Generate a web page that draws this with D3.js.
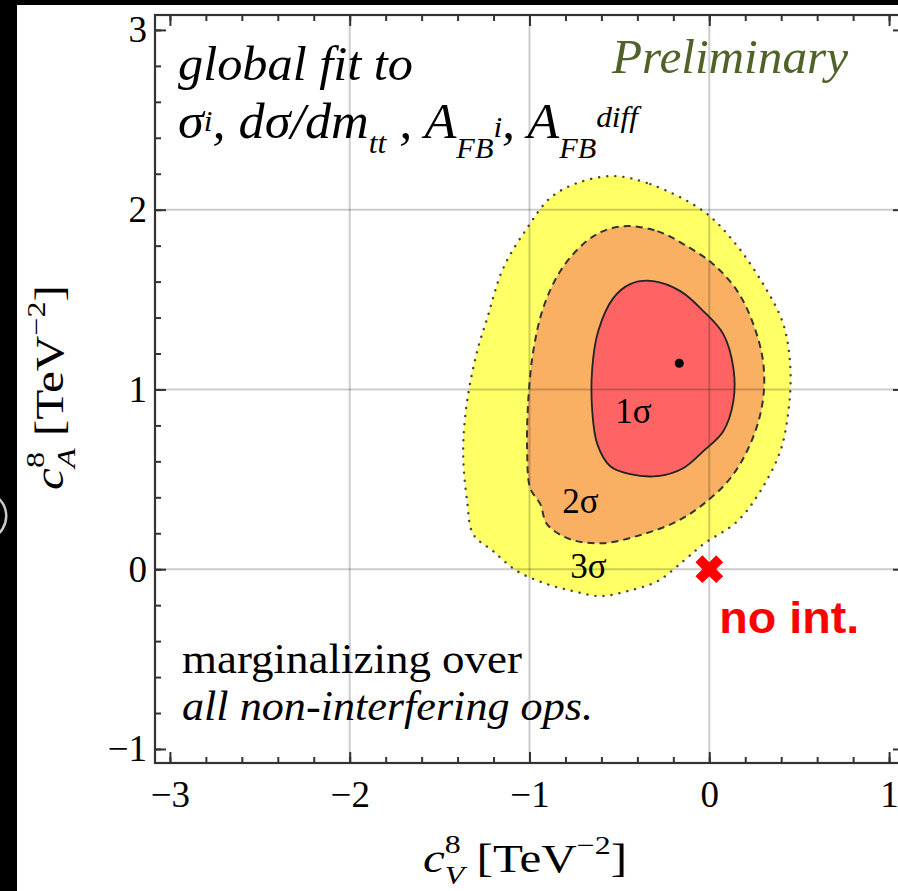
<!DOCTYPE html>
<html>
<head>
<meta charset="utf-8">
<script src="https://cdn.jsdelivr.net/npm/d3@7"></script>
<style>
  html, body { margin: 0; padding: 0; background: #000; }
  svg { display: block; }
</style>
</head>
<body>
<div id="container"></div>
<script>
// contour outlines, in (cV, cA) units of TeV^-2
var sigma3 = [
  [-0.534, 2.187], [-0.328, 2.142], [-0.033, 1.992], [0.134, 1.825], [0.300, 1.586],
  [0.412, 1.363], [0.451, 1.119], [0.440, 0.879], [0.395, 0.657], [0.284, 0.434],
  [0.156, 0.267], [-0.033, 0.139], [-0.145, 0.045], [-0.289, -0.067], [-0.456, -0.122],
  [-0.607, -0.150], [-0.757, -0.122], [-0.902, -0.083], [-1.068, -0.011], [-1.202, 0.100],
  [-1.313, 0.195], [-1.347, 0.378], [-1.369, 0.657], [-1.347, 0.935], [-1.291, 1.213],
  [-1.235, 1.397], [-1.146, 1.675], [-1.013, 1.898], [-0.885, 2.065], [-0.735, 2.148]
];
var sigma2 = [
  [-0.456, 1.909], [-0.289, 1.881], [-0.145, 1.809], [0.022, 1.697], [0.156, 1.547],
  [0.245, 1.363], [0.301, 1.141], [0.295, 0.918], [0.228, 0.696], [0.117, 0.506],
  [-0.033, 0.362], [-0.178, 0.267], [-0.367, 0.195], [-0.590, 0.145], [-0.774, 0.167],
  [-0.902, 0.250], [-0.940, 0.362], [-0.996, 0.451], [-1.013, 0.657], [-1.007, 0.935],
  [-0.979, 1.213], [-0.924, 1.452], [-0.829, 1.658], [-0.701, 1.809], [-0.590, 1.881]
];
var sigma1 = [
  [-0.312, 1.603], [-0.161, 1.547], [-0.033, 1.436], [0.078, 1.308], [0.134, 1.119],
  [0.134, 0.935], [0.078, 0.768], [-0.033, 0.657], [-0.145, 0.562], [-0.289, 0.518],
  [-0.440, 0.529], [-0.551, 0.573], [-0.623, 0.696], [-0.651, 0.879], [-0.651, 1.119],
  [-0.618, 1.324], [-0.534, 1.508], [-0.440, 1.586]
];
var bestFit = [-0.167, 1.146];
var noInt = [0, 0];

var sigmaLabels = ["1σ", "2σ", "3σ"];
var sigmaLabelPos = [[-0.523, 0.812], [-0.818, 0.311], [-0.773, -0.05]];

var xTicks = [-3, -2, -1, 0, 1];
var xTickLabels = ["\u22123", "\u22122", "\u22121", "0", "1"];
var yTicks = [-1, 0, 1, 2, 3];
var yTickLabels = ["\u22121", "0", "1", "2", "3"];
var xGrid = [-2, -1, 0];
var yGrid = [0, 1, 2];

const SERIF = "'Liberation Serif', 'DejaVu Serif', serif";
const SANS = "'Liberation Sans', Arial, sans-serif";

const W = 898, H = 891;
const LEFT = 155, RIGHT = 904, TOP = 15, BOTTOM = 763;

const svg = d3.select("#container").append("svg")
  .attr("width", W).attr("height", H)
  .style("font-family", SERIF);

// slide background
svg.append("rect").attr("width", W).attr("height", H).attr("fill", "#000");
svg.append("rect").attr("x", 17).attr("y", 5).attr("width", W - 17).attr("height", H - 5).attr("fill", "#fff");
svg.append("path")
  .attr("d", d3.arc()({innerRadius: 23, outerRadius: 25.5, startAngle: 0.5, endAngle: 2.65}))
  .attr("transform", "translate(-18,516)")
  .attr("fill", "#c8c8c8");

const x = d3.scaleLinear().domain([-3.083, 1.083]).range([LEFT, RIGHT]);
const y = d3.scaleLinear().domain([-1.078, 3.083]).range([BOTTOM, TOP]);

const plot = svg.append("g");
svg.append("clipPath").attr("id", "plotclip")
  .append("rect").attr("x", LEFT).attr("y", TOP).attr("width", RIGHT - LEFT).attr("height", BOTTOM - TOP);
plot.attr("clip-path", "url(#plotclip)");

const line = d3.line()
  .x(d => x(d[0]))
  .y(d => y(d[1]))
  .curve(d3.curveCatmullRomClosed.alpha(0.5));

// filled regions
plot.append("path").attr("d", line(sigma3)).attr("fill", "#ffff66");
plot.append("path").attr("d", line(sigma2)).attr("fill", "#f9b062");
plot.append("path").attr("d", line(sigma1)).attr("fill", "#ff6464");

// grid lines on top, translucent so they show through the fills
plot.selectAll(".gx").data(xGrid).enter().append("line")
  .attr("x1", d => x(d)).attr("x2", d => x(d))
  .attr("y1", TOP).attr("y2", BOTTOM)
  .attr("stroke", "#000").attr("stroke-opacity", 0.2).attr("stroke-width", 2);
plot.selectAll(".gy").data(yGrid).enter().append("line")
  .attr("y1", d => y(d)).attr("y2", d => y(d))
  .attr("x1", LEFT).attr("x2", RIGHT)
  .attr("stroke", "#000").attr("stroke-opacity", 0.2).attr("stroke-width", 2);

// contour borders
plot.append("path").attr("d", line(sigma3)).attr("fill", "none")
  .attr("stroke", "#444").attr("stroke-width", 2.4)
  .attr("stroke-dasharray", "0.1 8").attr("stroke-linecap", "round");
plot.append("path").attr("d", line(sigma2)).attr("fill", "none")
  .attr("stroke", "#333").attr("stroke-width", 2)
  .attr("stroke-dasharray", "7 5");
plot.append("path").attr("d", line(sigma1)).attr("fill", "none")
  .attr("stroke", "#222").attr("stroke-width", 1.8);

plot.append("circle")
  .attr("cx", x(bestFit[0])).attr("cy", y(bestFit[1])).attr("r", 4.5)
  .attr("fill", "#000");

plot.selectAll(".slab").data(sigmaLabels).enter().append("text")
  .attr("x", (d, i) => x(sigmaLabelPos[i][0]))
  .attr("y", (d, i) => y(sigmaLabelPos[i][1]))
  .attr("font-size", 35)
  .attr("fill", "#000")
  .text(d => d);

// no-interference point
svg.append("path")
  .attr("d", d3.symbol(d3.symbolCross, 480)())
  .attr("transform", `translate(${x(noInt[0])},${y(noInt[1])}) rotate(45)`)
  .attr("fill", "#ff0000");
svg.append("text")
  .attr("x", x(noInt[0]) + 10).attr("y", y(noInt[1]) + 64)
  .style("font-family", SANS)
  .attr("font-weight", "bold").attr("font-size", 44)
  .attr("fill", "#ff0000")
  .attr("textLength", 140).attr("lengthAdjust", "spacingAndGlyphs")
  .text("no int.");

// axes: major + minor ticks pointing inward on all four sides
const minor = d3.range(-3, 1.001, 0.2).map(v => +v.toFixed(1));
const minorY = d3.range(-1, 3.001, 0.2).map(v => +v.toFixed(1));

function styleAxis(g) {
  g.attr("font-family", null);
  g.select(".domain").remove();
  g.selectAll("line").attr("stroke", "#333").attr("stroke-width", 2);
  g.selectAll("text").attr("font-size", 37).attr("fill", "#000");
}

svg.append("g").attr("transform", `translate(0,${BOTTOM})`)
  .call(d3.axisBottom(x).tickValues(minor).tickSize(-6).tickFormat(""))
  .call(styleAxis);
svg.append("g").attr("transform", `translate(0,${BOTTOM})`)
  .call(d3.axisBottom(x).tickValues(xTicks).tickSize(-11).tickPadding(18)
    .tickFormat((d, i) => xTickLabels[i]))
  .call(styleAxis);
svg.append("g").attr("transform", `translate(0,${TOP})`)
  .call(d3.axisTop(x).tickValues(minor).tickSize(-6).tickFormat(""))
  .call(styleAxis);
svg.append("g").attr("transform", `translate(0,${TOP})`)
  .call(d3.axisTop(x).tickValues(xTicks).tickSize(-11).tickFormat(""))
  .call(styleAxis);

svg.append("g").attr("transform", `translate(${LEFT},0)`)
  .call(d3.axisLeft(y).tickValues(minorY).tickSize(-6).tickFormat(""))
  .call(styleAxis);
svg.append("g").attr("transform", `translate(${LEFT},0)`)
  .call(d3.axisLeft(y).tickValues(yTicks).tickSize(-11).tickPadding(8)
    .tickFormat((d, i) => yTickLabels[i]))
  .call(styleAxis);
svg.append("g").attr("transform", `translate(${RIGHT},0)`)
  .call(d3.axisRight(y).tickValues(minorY).tickSize(-6).tickFormat(""))
  .call(styleAxis);
svg.append("g").attr("transform", `translate(${RIGHT},0)`)
  .call(d3.axisRight(y).tickValues(yTicks).tickSize(-11).tickFormat(""))
  .call(styleAxis);

// frame
svg.append("rect")
  .attr("x", LEFT).attr("y", TOP).attr("width", RIGHT - LEFT).attr("height", BOTTOM - TOP)
  .attr("fill", "none").attr("stroke", "#333").attr("stroke-width", 2.2);

// axis titles (sup and sub stacked after the c)
function axisTitle(t, sub) {
  t.append("tspan").attr("font-style", "italic").text("c");
  t.append("tspan").attr("font-size", 26).attr("dy", -19).text("8");
  t.append("tspan").attr("font-size", 26).attr("font-style", "italic")
    .attr("dx", -13).attr("dy", 31).text(sub);
  t.append("tspan").attr("dy", -12).text(" [TeV");
  t.append("tspan").attr("font-size", 26).attr("dy", -18).text("\u22122");
  t.append("tspan").attr("dy", 18).text("]");
}

axisTitle(svg.append("text")
  .attr("x", 423).attr("y", 872)
  .attr("font-size", 40).attr("fill", "#000")
  .attr("textLength", 204).attr("lengthAdjust", "spacingAndGlyphs"), "V");

axisTitle(svg.append("text")
  .attr("transform", "translate(63,490) rotate(-90)")
  .attr("font-size", 40).attr("fill", "#000")
  .attr("textLength", 205).attr("lengthAdjust", "spacingAndGlyphs"), "A");

// annotations
svg.append("text")
  .attr("x", 612).attr("y", 73)
  .attr("font-style", "italic").attr("font-size", 48)
  .attr("fill", "#4f6228")
  .attr("textLength", 236).attr("lengthAdjust", "spacingAndGlyphs")
  .text("Preliminary");

svg.append("text")
  .attr("x", 178).attr("y", 80)
  .attr("font-style", "italic").attr("font-size", 48)
  .attr("textLength", 235).attr("lengthAdjust", "spacingAndGlyphs")
  .text("global fit to");

const l2 = svg.append("text")
  .attr("x", 178).attr("y", 138)
  .attr("font-style", "italic").attr("font-size", 50).attr("fill", "#000")
  .attr("textLength", 460).attr("lengthAdjust", "spacingAndGlyphs");
l2.append("tspan").text("σ");
l2.append("tspan").attr("font-size", 30).attr("dy", -7).text("i");
l2.append("tspan").attr("dy", 7).text(", dσ/dm");
l2.append("tspan").attr("font-size", 30).attr("dy", 15).text("tt");
l2.append("tspan").attr("dy", -15).text(" , A");
l2.append("tspan").attr("font-size", 29).attr("dy", 20).text("FB");
l2.append("tspan").attr("font-size", 30).attr("dy", -21).text("i");
l2.append("tspan").attr("dy", 1).text(", A");
l2.append("tspan").attr("font-size", 29).attr("dy", 20).text("FB");
l2.append("tspan").attr("font-size", 30).attr("dy", -31).text("diff");

svg.append("text")
  .attr("x", 182).attr("y", 673)
  .attr("font-size", 42)
  .attr("textLength", 340).attr("lengthAdjust", "spacingAndGlyphs")
  .text("marginalizing over");
svg.append("text")
  .attr("x", 182).attr("y", 720)
  .attr("font-style", "italic").attr("font-size", 42)
  .attr("textLength", 411).attr("lengthAdjust", "spacingAndGlyphs")
  .text("all non-interfering ops.");
</script>
</body>
</html>
